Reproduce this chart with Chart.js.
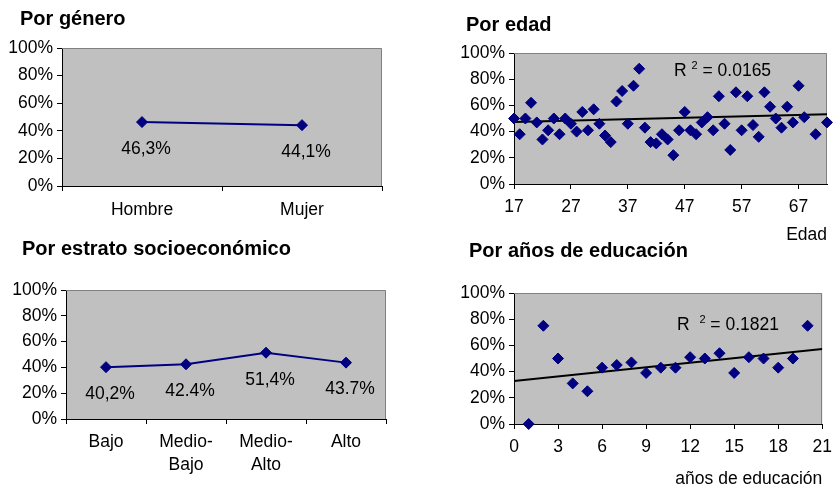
<!DOCTYPE html>
<html>
<head>
<meta charset="utf-8">
<script src="https://cdn.jsdelivr.net/npm/chart.js@4.4.0/dist/chart.umd.min.js"></script>
<style>
    body { margin: 0; width: 840px; height: 488px; background: #fff; position: relative; overflow: hidden;
           font-family: "Liberation Sans", Arial, sans-serif; color: #000; }
    .box { position: absolute; }
    .title { position: absolute; font-weight: bold; font-size: 20px; line-height: 24px; white-space: nowrap; }
    .r2 { position: absolute; font-size: 17.5px; line-height: 20px; white-space: nowrap; }
    .r2 sup { font-size: 11px; vertical-align: 0; position: relative; top: -7px; }
</style>
</head>
<body>
<div class="box" style="left:0;top:0;width:420px;height:230px"><canvas id="generoChart"></canvas></div>
<div class="box" style="left:440px;top:0;width:400px;height:248px"><canvas id="edadChart"></canvas></div>
<div class="box" style="left:0;top:240px;width:420px;height:248px"><canvas id="estratoChart"></canvas></div>
<div class="box" style="left:440px;top:240px;width:400px;height:248px"><canvas id="educChart"></canvas></div>

<div class="title" style="left:20px;top:6px">Por género</div>
<div class="title" style="left:466px;top:12px">Por edad</div>
<div class="title" style="left:22px;top:236px">Por estrato socioeconómico</div>
<div class="title" style="left:469px;top:238px">Por años de educación</div>
<div class="r2" style="left:674px;top:60px">R <sup>2</sup> = 0.0165</div>
<div class="r2" style="left:677px;top:314px">R&nbsp;&nbsp;<sup>2</sup> = 0.1821</div>

<script>
const generoLabels = ['Hombre', 'Mujer'];
const generoValues = [46.3, 44.1];
const generoText = ['46,3%', '44,1%'];

const estratoLabels = ['Bajo', ['Medio-', 'Bajo'], ['Medio-', 'Alto'], 'Alto'];
const estratoValues = [40.2, 42.4, 51.4, 43.7];
const estratoText = ['40,2%', '42.4%', '51,4%', '43.7%'];

const edadX = [17, 18, 19, 20, 21, 22, 23, 24, 25, 26, 27, 28, 29, 30, 31, 32, 33, 34, 35, 36,
               37, 38, 39, 40, 41, 42, 43, 44, 45, 46, 47, 48, 49, 50, 51, 52, 53, 54, 55, 56,
               57, 58, 59, 60, 61, 62, 63, 64, 65, 66, 67, 68, 70, 72];
const edadY = [50, 38, 50, 62, 47, 34, 41, 50, 38, 50, 46, 40, 55, 41, 57, 46, 37, 32, 63, 71,
               46, 75, 88, 43, 32, 31, 38, 34, 22, 41, 55, 41, 38, 47, 51, 41, 67, 46, 26, 70,
               41, 67, 45, 36, 70, 59, 50, 43, 59, 47, 75, 51, 38, 47];
const edadTicks = [17, 27, 37, 47, 57, 67];
const edadTrendX = [17, 72];
const edadTrendY = [47.3, 53.2];

const educX = [1, 2, 3, 4, 5, 6, 7, 8, 9, 10, 11, 12, 13, 14, 15, 16, 17, 18, 19, 20];
const educY = [0, 75, 50, 31, 25, 43, 45, 47, 39, 43, 43, 51, 50, 54, 39, 51, 50, 43, 50, 75];
const educTrendX = [0, 21];
const educTrendY = [32.9, 57.2];

const navy = '#000080';
const fontFamily = "'Liberation Sans', Arial, sans-serif";
const tickFont = { family: fontFamily, size: 17.5 };

// gray plot background with gray top/right edge
const plotFrame = {
    id: 'plotFrame',
    beforeDraw(chart) {
        const a = chart.chartArea;
        const ctx = chart.ctx;
        ctx.save();
        ctx.fillStyle = '#c0c0c0';
        ctx.fillRect(a.left, a.top, a.right - a.left, a.bottom - a.top);
        ctx.restore();
    },
    beforeDatasetsDraw(chart) {
        const a = chart.chartArea;
        const ctx = chart.ctx;
        ctx.save();
        ctx.strokeStyle = '#808080';
        ctx.lineWidth = 1;
        ctx.beginPath();
        ctx.moveTo(a.left, Math.round(a.top) + 0.5);
        ctx.lineTo(Math.round(a.right) - 0.5, Math.round(a.top) + 0.5);
        ctx.lineTo(Math.round(a.right) - 0.5, a.bottom);
        ctx.stroke();
        ctx.restore();
    }
};

// percentage text under each point
const valueLabels = {
    id: 'valueLabels',
    afterDatasetsDraw(chart, args, opts) {
        if (!opts.texts) return;
        const ctx = chart.ctx;
        const meta = chart.getDatasetMeta(0);
        ctx.save();
        ctx.font = `17.5px ${fontFamily}`;
        ctx.fillStyle = '#000';
        ctx.textAlign = 'center';
        ctx.textBaseline = 'middle';
        meta.data.forEach((pt, i) => {
            ctx.fillText(opts.texts[i], pt.x + 4, pt.y + 27);
        });
        ctx.restore();
    }
};

function percentAxis(width) {
    return {
        min: 0,
        max: 100,
        ticks: { stepSize: 20, callback: v => v + '%', color: '#000', font: tickFont, padding: 4 },
        grid: { drawOnChartArea: false, tickLength: 5, color: '#000' },
        border: { color: '#000' },
        afterFit(s) { s.width = width; }
    };
}

function lineChart(id, labels, values, texts, pad, yWidth, xHeight, xTickPadding, lineHeight) {
    return new Chart(document.getElementById(id), {
        type: 'line',
        data: {
            labels: labels,
            datasets: [{
                data: values,
                borderColor: navy,
                borderWidth: 2,
                pointStyle: 'rectRot',
                pointRadius: 5.5,
                pointBackgroundColor: navy,
                pointBorderColor: navy,
                pointBorderWidth: 1,
                clip: false
            }]
        },
        options: {
            responsive: true,
            maintainAspectRatio: false,
            animation: false,
            layout: { padding: pad },
            scales: {
                x: {
                    offset: true,
                    grid: { offset: true, drawOnChartArea: false, tickLength: 5, color: '#000' },
                    border: { color: '#000' },
                    ticks: { color: '#000', font: { ...tickFont, lineHeight: lineHeight }, padding: xTickPadding, maxRotation: 0 },
                    afterFit(s) { s.height = xHeight; }
                },
                y: percentAxis(yWidth)
            },
            plugins: {
                legend: { display: false },
                tooltip: { enabled: false },
                valueLabels: { texts: texts }
            }
        },
        plugins: [plotFrame, valueLabels]
    });
}

function scatterChart(id, xs, ys, trendX, trendY, xOpts, title, titleLineHeight, pad, xHeight) {
    const points = xs.map((x, i) => ({ x: x, y: ys[i] }));
    const trend = trendX.map((x, i) => ({ x: x, y: trendY[i] }));
    return new Chart(document.getElementById(id), {
        type: 'scatter',
        data: {
            datasets: [{
                data: points,
                pointStyle: 'rectRot',
                pointRadius: 5.5,
                backgroundColor: navy,
                borderColor: navy,
                borderWidth: 1,
                clip: false
            }, {
                type: 'line',
                data: trend,
                borderColor: '#000',
                borderWidth: 2,
                pointRadius: 0,
                fill: false
            }]
        },
        options: {
            responsive: true,
            maintainAspectRatio: false,
            animation: false,
            layout: { padding: pad },
            scales: {
                x: {
                    type: 'linear',
                    ...xOpts,
                    grid: { drawOnChartArea: false, tickLength: 5, color: '#000' },
                    border: { color: '#000' },
                    ticks: { ...(xOpts.ticks || {}), color: '#000', font: tickFont, padding: 8, maxRotation: 0 },
                    title: {
                        display: true, text: title, align: 'end', color: '#000', padding: 0,
                        font: { ...tickFont, lineHeight: titleLineHeight }
                    },
                    afterFit(s) { s.height = xHeight; }
                },
                y: percentAxis(74)
            },
            plugins: {
                legend: { display: false },
                tooltip: { enabled: false }
            }
        },
        plugins: [plotFrame]
    });
}

document.addEventListener('DOMContentLoaded', () => {
    lineChart('generoChart', generoLabels, generoValues, generoText,
        { top: 48, right: 38, bottom: 0, left: 0 }, 62, 44, 9, 1.2);

    lineChart('estratoChart', estratoLabels, estratoValues, estratoText,
        { top: 50, right: 34, bottom: 0, left: 0 }, 66, 69, 6, 1.35);

    scatterChart('edadChart', edadX, edadY, edadTrendX, edadTrendY, {
        min: 17,
        max: 72,
        afterBuildTicks(s) { s.ticks = edadTicks.map(v => ({ value: v })); }
    }, 'Edad', 1.2, { top: 53, right: 13, bottom: 2, left: 0 }, 62);

    scatterChart('educChart', educX, educY, educTrendX, educTrendY, {
        min: 0,
        max: 21,
        ticks: { stepSize: 3 }
    }, 'años de educación', 1.0, { top: 53, right: 12, bottom: 0, left: 0 }, 64);
});
</script>
</body>
</html>
